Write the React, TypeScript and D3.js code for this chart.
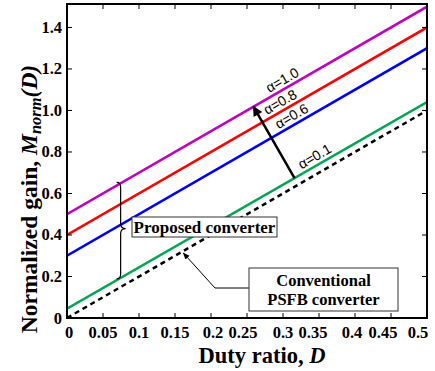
import React from "react";
import * as d3 from "d3";

const dutyRatio = [0, 0.5];
const gainAlpha10 = [0.5, 1.5];
const gainAlpha08 = [0.4, 1.4];
const gainAlpha06 = [0.3, 1.3];
const gainAlpha01 = [0.045, 1.04];
const gainConventional = [0, 1.0];
const xTicks = [0, 0.05, 0.1, 0.15, 0.2, 0.25, 0.3, 0.35, 0.4, 0.45, 0.5];
const xTickLabels = ["0", "0.05", "0.1", "0.15", "0.2", "0.25", "0.3", "0.35", "0.4", "0.45", "0.5"];
const xTickNudge = [2, 0, 0, 0, 2, -4, 0, -6, -3, -8, -9];
const yTicks = [0, 0.2, 0.4, 0.6, 0.8, 1.0, 1.2, 1.4];
const yTickLabels = ["0", "0.2", "0.4", "0.6", "0.8", "1.0", "1.2", "1.4"];
const alphaLabels = ["α=1.0", "α=0.8", "α=0.6", "α=0.1"];

const W = 435, H = 371;
const L = 67, R = 427, T = 4, B = 318;
const serif = "'Liberation Serif', 'Times New Roman', serif";
const sans = "'Liberation Sans', Arial, sans-serif";

export default function App() {
  const x = d3.scaleLinear().domain([0, 0.5]).range([L, R]);
  const y = d3.scaleLinear().domain([0, 1.513]).range([B, T]);
  const line = d3.line<[number, number]>().x(d => x(d[0])).y(d => y(d[1]));
  const mk = (vals: number[]) => dutyRatio.map((d, i) => [d, vals[i]] as [number, number]);
  const interp = (vals: number[], d: number) => vals[0] + (vals[1] - vals[0]) * (d - dutyRatio[0]) / (dutyRatio[1] - dutyRatio[0]);

  const series = [
    { vals: gainAlpha10, color: "#c000c0" },
    { vals: gainAlpha08, color: "#ff0000" },
    { vals: gainAlpha06, color: "#0000ff" },
    { vals: gainAlpha01, color: "#00a651" },
  ];

  const angle = -Math.atan2(y(0) - y(2), x(1) - x(0)) * 180 / Math.PI;
  const labelPos = [
    { d: 0.305, v: gainAlpha10 },
    { d: 0.302, v: gainAlpha08 },
    { d: 0.318, v: gainAlpha06 },
    { d: 0.35, v: gainAlpha01 },
  ];

  // brace
  const bd = 0.0745;
  const bx = x(bd);
  const by1 = y(interp(gainAlpha10, bd)) - 1;
  const by2 = y(interp(gainAlpha01, bd)) + 1;
  const bym = (by1 + by2) / 2 - 2;
  const brace = `M${bx - 4},${by1} Q${bx},${by1} ${bx},${by1 + 5} L${bx},${bym - 5} Q${bx},${bym} ${bx + 5},${bym} Q${bx},${bym} ${bx},${bym + 5} L${bx},${by2 - 5} Q${bx},${by2} ${bx - 4},${by2}`;

  // arrow from alpha=0.1 to alpha=1.0
  const a0d = 0.316, a1d = 0.259;
  const ax0 = x(a0d), ay0 = y(interp(gainAlpha01, a0d));
  const ax1 = x(a1d), ay1 = y(interp(gainAlpha10, a1d));

  // conventional leader
  const cd = 0.1615;
  const cx = x(cd), cy = y(interp(gainConventional, cd)) + 2;

  return (
    <svg width={W} height={H} style={{ position: "absolute", left: 0, top: 0, background: "#fff" }}>
      <defs>
        <marker id="ah" viewBox="0 0 10 10" refX="9" refY="5" markerWidth="5" markerHeight="4" orient="auto" markerUnits="strokeWidth">
          <path d="M0,0 L10,5 L0,10 z" fill="#000" />
        </marker>
        <marker id="ah2" viewBox="0 0 10 10" refX="9" refY="5" markerWidth="7" markerHeight="7" orient="auto" markerUnits="strokeWidth">
          <path d="M0,1 L10,5 L0,9 z" fill="#000" />
        </marker>
        <clipPath id="plot"><rect x={L} y={T} width={R - L} height={B - T} /></clipPath>
      </defs>
      <rect x={0} y={0} width={W} height={H} fill="#fff" />

      <g clipPath="url(#plot)">
        <path d={line(mk(gainConventional)) || ""} fill="none" stroke="#000" strokeWidth={2.5} strokeDasharray="5,4" />
        {series.map((s, i) => (
          <path key={i} d={line(mk(s.vals)) || ""} fill="none" stroke={s.color} strokeWidth={2.5} />
        ))}
      </g>

      {/* ticks */}
      {xTicks.map((t, i) => (
        <g key={"xt" + i}>
          <line x1={x(t)} x2={x(t)} y1={B} y2={B - 5} stroke="#000" strokeWidth={1} />
          <line x1={x(t)} x2={x(t)} y1={T} y2={T + 5} stroke="#000" strokeWidth={1} />
          <text x={x(t) + xTickNudge[i]} y={338} textAnchor="middle"
            fontFamily={serif} fontWeight="bold" fontSize={16.5}>{xTickLabels[i]}</text>
        </g>
      ))}
      {yTicks.map((t, i) => (
        <g key={"yt" + i}>
          <line x1={L} x2={L + 5} y1={y(t)} y2={y(t)} stroke="#000" strokeWidth={1} />
          <line x1={R} x2={R - 5} y1={y(t)} y2={y(t)} stroke="#000" strokeWidth={1} />
          <text x={62} y={y(t) + 5.5} textAnchor="end" fontFamily={serif} fontWeight="bold" fontSize={16.5}>{yTickLabels[i]}</text>
        </g>
      ))}
      <rect x={L} y={T} width={R - L} height={B - T} fill="none" stroke="#000" strokeWidth={2} />

      {/* alpha labels */}
      {labelPos.map((p, i) => {
        const px = x(p.d), py = y(interp(p.v, p.d));
        return (
          <text key={"al" + i} transform={`translate(${px},${py}) rotate(${angle})`} y={-4} textAnchor="middle"
            fontFamily={sans} fontSize={14}>{alphaLabels[i]}</text>
        );
      })}

      {/* arrow */}
      <line x1={ax0} y1={ay0} x2={ax1} y2={ay1} stroke="#000" strokeWidth={2.5} markerEnd="url(#ah)" />

      {/* brace */}
      <path d={brace} fill="none" stroke="#000" strokeWidth={1.2} />

      {/* proposed box */}
      <rect x={132} y={217} width={145} height={20} fill="#fff" stroke="#333" strokeWidth={1} />
      <text x={204.5} y={233} textAnchor="middle" fontFamily={serif} fontWeight="bold" fontSize={17}>Proposed converter</text>

      {/* conventional leader */}
      <polyline points={`249,288 215,288 ${cx},${cy}`} fill="none" stroke="#000" strokeWidth={1} markerEnd="url(#ah2)" />
      <rect x={249} y={268} width={149} height={43} fill="#fff" stroke="#333" strokeWidth={1} />
      <text x={323.5} y={286} textAnchor="middle" fontFamily={serif} fontWeight="bold" fontSize={16.5}>Conventional</text>
      <text x={323.5} y={305} textAnchor="middle" fontFamily={serif} fontWeight="bold" fontSize={16.5}>PSFB converter</text>

      {/* axis titles */}
      <text x={262} y={363} textAnchor="middle" fontFamily={serif} fontWeight="bold" fontSize={22.5}>
        Duty ratio,  <tspan fontStyle="italic">D</tspan>
      </text>
      <text transform="translate(37,199) rotate(-90)" textAnchor="middle" fontFamily={serif} fontWeight="bold" fontSize={23.5}>
        Normalized gain,  <tspan fontStyle="italic">M</tspan><tspan fontStyle="italic" fontSize={16.5} dy={4}>norm</tspan><tspan fontStyle="italic" dy={-4}>(D)</tspan>
      </text>
    </svg>
  );
}
